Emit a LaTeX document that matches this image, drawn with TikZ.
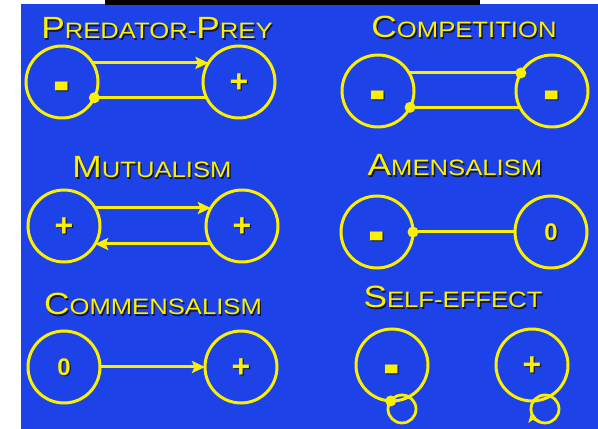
\documentclass[tikz,border=0pt]{standalone}
\usepackage{fontspec}
\setmainfont{Liberation Sans}
\newfontfamily\tfont[FakeStretch=1.15]{Liberation Sans}
\usetikzlibrary{arrows.meta,calc}
\definecolor{bg}{RGB}{28,66,232}
\definecolor{yel}{RGB}{250,240,0}
\definecolor{shd}{RGB}{20,20,55}
\newcommand\Cap[1]{{\fontsize{30.7}{32}\selectfont #1}}
\newcommand\mns{\scalebox{1.55}[2.3]{-}}
\newcommand\zro{{\fontsize{24}{24}\selectfont 0}}
\newcommand\ttlnode[3]{%
  \node[ttlsh] (#1s) at ([shift={(1.4,-1.4)}]#2) {#3};
  \node[ttl] (#1) at (#2) {#3};}
\newcommand\symnode[4]{%
  \node[symsh] (#1s) at ([shift={(1.2,-1.2+#4)}]#2.center) {#3};
  \node[sym] (#1) at ([yshift=#4]#2.center) {#3};}
\begin{document}
\begin{tikzpicture}[x=1pt,y=1pt,
  org/.style={circle,draw=yel,line width=3pt,minimum size=72pt,inner sep=0pt,outer sep=0pt},
  loopc/.style={circle,draw=yel,line width=2.8pt,minimum size=28pt,inner sep=0pt,outer sep=0pt},
  link/.style={draw=yel,line width=3pt},
  arr/.style={link,-{Stealth[length=13pt,width=12pt,inset=2.5pt]}},
  ttl/.style={text=yel,font=\tfont\fontsize{22.3}{24}\selectfont,anchor=base,inner sep=0pt},
  ttlsh/.style={ttl,text=shd},
  sym/.style={text=yel,font=\bfseries\fontsize{32}{32}\selectfont,inner sep=0pt},
  symsh/.style={sym,text=shd}
]
\useasboundingbox (0,0) rectangle (598,429);
\fill[white] (0,0) rectangle (598,429);
\fill[bg] (21,0) rectangle (598,425);
\fill[black] (105,424) rectangle (480,429);

% titles
\ttlnode{tpp}{157,390}{\Cap{P}REDATOR-\Cap{P}REY}
\ttlnode{tco}{464,391}{\Cap{C}OMPETITION}
\ttlnode{tmu}{152,251}{\Cap{M}UTUALISM}
\ttlnode{tam}{455,253}{\Cap{A}MENSALISM}
\ttlnode{tcm}{153,114}{\Cap{C}OMMENSALISM}
\ttlnode{tse}{453,121}{\Cap{S}ELF-EFFECT}

% predator-prey
\node[org] (pa) at (62,347) {};
\node[org] (pb) at (239,347) {};
\symnode{pas}{pa}{\mns}{-12}
\symnode{pbs}{pb}{+}{-1}
\draw[arr] (pa.32) -- (pb.148);
\draw[link] (pa.-26) -- (pb.206);
\fill[yel] (pa.-26) circle[radius=5.5];

% competition
\node[org] (ca) at (378,338) {};
\node[org] (cb) at (552,338) {};
\symnode{cas}{ca}{\mns}{-12}
\symnode{cbs}{cb}{\mns}{-12}
\draw[link] (ca.30) -- (cb.150);
\draw[link] (ca.-27) -- (cb.207);
\fill[yel] (cb.150) circle[radius=5.5];
\fill[yel] (ca.-27) circle[radius=5.5];

% mutualism
\node[org] (ma) at (64,203) {};
\node[org] (mb) at (242,203) {};
\symnode{mas}{ma}{+}{-1}
\symnode{mbs}{mb}{+}{-1}
\draw[arr] (ma.30) -- (mb.150);
\draw[arr] (mb.210) -- (ma.-30);

% amensalism
\node[org] (na) at (377,197) {};
\node[org] (nb) at (551,197) {};
\symnode{nas}{na}{\mns}{-12}
\symnode{nbs}{nb}{\zro}{0}
\draw[link] (na.east) -- (nb.west);
\fill[yel] (na.east) circle[radius=5.5];

% commensalism
\node[org] (ka) at (64,62) {};
\node[org] (kb) at (241,62) {};
\symnode{kas}{ka}{\zro}{0}
\symnode{kbs}{kb}{+}{-1}
\draw[arr] (ka.east) -- (kb.west);

% self-effect
\node[org] (sa) at (392,64) {};
\node[loopc] (la) at (402,20) {};
\symnode{sas}{sa}{\mns}{-12}
\fill[yel] (sa.-92) circle[radius=5.5];
\node[org] (sb) at (532,64) {};
\node[loopc] (lb) at (545,20) {};
\symnode{sbs}{sb}{+}{-1}
\draw[yel,line width=2.8pt,-{Stealth[length=10pt,width=10pt,inset=2pt]}] (lb.250) arc[start angle=250,end angle=192,radius=14];
\end{tikzpicture}
\end{document}
